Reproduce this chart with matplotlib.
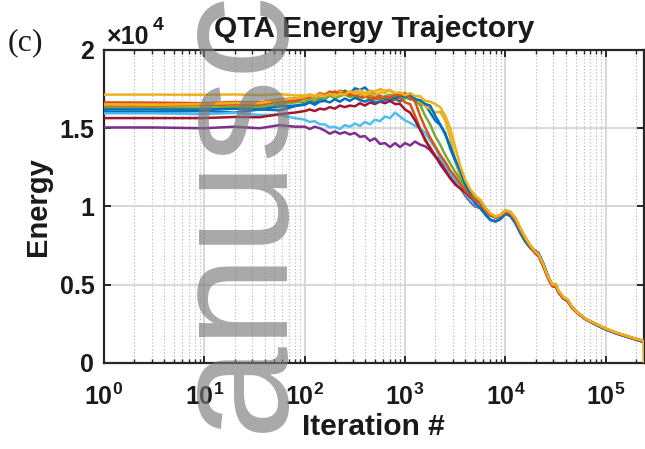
import numpy as np
import matplotlib
matplotlib.use("Agg")
import matplotlib.pyplot as plt
from matplotlib.ticker import LogLocator, FixedLocator, FuncFormatter, NullFormatter

plt.rcParams['font.family'] = ['Liberation Sans', 'DejaVu Sans']
plt.rcParams['mathtext.default'] = 'regular'

# ---- data (energy in units of 1e4, iterations on log10 scale) ----
log_iter_head = [0, 0.5, 1.0, 1.3, 1.55, 1.75, 1.9,
                 2.0, 2.05, 2.1, 2.15, 2.2, 2.25, 2.3, 2.35, 2.4, 2.45,
                 2.5, 2.55, 2.6, 2.65, 2.7, 2.75, 2.8, 2.85, 2.9, 2.95,
                 3.0, 3.05, 3.1, 3.15, 3.2, 3.25, 3.3, 3.35, 3.4, 3.45,
                 3.5, 3.55, 3.6, 3.65, 3.7]

run01 = [1.605, 1.605, 1.61, 1.60, 1.62, 1.615, 1.64,
         1.655, 1.675, 1.66, 1.69, 1.685, 1.71, 1.695, 1.72, 1.74, 1.72,
         1.755, 1.745, 1.76, 1.73, 1.715, 1.695, 1.70, 1.675, 1.69, 1.67,
         1.705, 1.685, 1.69, 1.65, 1.655, 1.60, 1.55, 1.52, 1.47, 1.37,
         1.29, 1.20, 1.13, 1.06, 1.02]
run02 = [1.665, 1.664, 1.66, 1.668, 1.665, 1.685, 1.69,
         1.70, 1.715, 1.705, 1.725, 1.715, 1.735, 1.72, 1.74, 1.73, 1.725,
         1.71, 1.725, 1.705, 1.715, 1.695, 1.71, 1.69, 1.70, 1.68, 1.695,
         1.665, 1.655, 1.58, 1.50, 1.42, 1.38, 1.32, 1.30, 1.25, 1.21,
         1.16, 1.13, 1.09, 1.065, 1.04]
run03 = [1.715, 1.715, 1.714, 1.716, 1.712, 1.718, 1.71,
         1.71, 1.715, 1.705, 1.72, 1.71, 1.725, 1.72, 1.735, 1.72, 1.735,
         1.73, 1.745, 1.725, 1.74, 1.735, 1.75, 1.74, 1.745, 1.715, 1.72,
         1.695, 1.715, 1.685, 1.67, 1.64, 1.625, 1.60, 1.605, 1.55, 1.44,
         1.30, 1.20, 1.13, 1.09, 1.06]
run04 = [1.505, 1.505, 1.50, 1.51, 1.50, 1.52, 1.51,
         1.51, 1.495, 1.51, 1.50, 1.485, 1.465, 1.48, 1.465, 1.475, 1.46,
         1.47, 1.445, 1.45, 1.42, 1.435, 1.40, 1.405, 1.38, 1.405, 1.38,
         1.405, 1.39, 1.415, 1.395, 1.385, 1.36, 1.32, 1.29, 1.245, 1.20,
         1.16, 1.12, 1.07, 1.03, 1.00]
run05 = [1.63, 1.632, 1.63, 1.638, 1.635, 1.655, 1.665,
         1.67, 1.685, 1.675, 1.695, 1.69, 1.71, 1.69, 1.705, 1.715, 1.70,
         1.71, 1.685, 1.70, 1.705, 1.685, 1.69, 1.705, 1.715, 1.70, 1.71,
         1.69, 1.695, 1.675, 1.65, 1.58, 1.525, 1.45, 1.395, 1.33, 1.275,
         1.22, 1.175, 1.12, 1.085, 1.06]
run06 = [1.595, 1.595, 1.59, 1.598, 1.585, 1.585, 1.565,
         1.555, 1.54, 1.545, 1.525, 1.525, 1.505, 1.51, 1.495, 1.52, 1.51,
         1.53, 1.515, 1.54, 1.525, 1.555, 1.545, 1.575, 1.565, 1.60, 1.575,
         1.55, 1.535, 1.515, 1.50, 1.47, 1.42, 1.375, 1.31, 1.265, 1.21,
         1.17, 1.13, 1.08, 1.04, 1.01]
run07 = [1.565, 1.565, 1.565, 1.572, 1.57, 1.59, 1.60,
         1.61, 1.62, 1.61, 1.625, 1.62, 1.635, 1.625, 1.645, 1.635, 1.645,
         1.64, 1.66, 1.645, 1.665, 1.655, 1.67, 1.66, 1.675, 1.655, 1.655,
         1.62, 1.60, 1.55, 1.49, 1.43, 1.37, 1.325, 1.27, 1.225, 1.18,
         1.14, 1.115, 1.09, 1.06, 1.04]
run08 = [1.62, 1.62, 1.618, 1.625, 1.62, 1.64, 1.645,
         1.65, 1.665, 1.65, 1.67, 1.675, 1.665, 1.685, 1.67, 1.69, 1.675,
         1.695, 1.68, 1.67, 1.685, 1.665, 1.67, 1.68, 1.695, 1.69, 1.71,
         1.70, 1.71, 1.685, 1.68, 1.655, 1.645, 1.58, 1.525, 1.46, 1.385,
         1.30, 1.225, 1.14, 1.08, 1.02]
run09 = [1.645, 1.645, 1.648, 1.652, 1.65, 1.67, 1.675,
         1.69, 1.70, 1.695, 1.715, 1.71, 1.725, 1.735, 1.72, 1.725, 1.71,
         1.715, 1.70, 1.705, 1.69, 1.69, 1.685, 1.70, 1.695, 1.715, 1.71,
         1.725, 1.695, 1.67, 1.58, 1.505, 1.44, 1.385, 1.33, 1.285, 1.23,
         1.19, 1.145, 1.10, 1.07, 1.04]
run10 = [1.652, 1.65, 1.655, 1.662, 1.66, 1.68, 1.69,
         1.70, 1.71, 1.70, 1.715, 1.705, 1.72, 1.705, 1.72, 1.715, 1.735,
         1.72, 1.725, 1.71, 1.725, 1.71, 1.73, 1.725, 1.745, 1.725, 1.73,
         1.71, 1.725, 1.705, 1.705, 1.675, 1.67, 1.655, 1.635, 1.58, 1.50,
         1.38, 1.26, 1.17, 1.11, 1.07]

log_iter_tail = [3.75, 3.8, 3.85, 3.9, 3.95, 4.0, 4.05, 4.1, 4.15, 4.2,
                 4.25, 4.3, 4.33, 4.38, 4.43, 4.47, 4.5, 4.53, 4.58, 4.62,
                 4.66, 4.72, 4.8, 4.9, 5.0, 5.1, 5.2, 5.3, 5.375]
tail_a = [0.99, 0.95, 0.915, 0.905, 0.92, 0.955, 0.94, 0.895, 0.83, 0.775,
          0.735, 0.715, 0.70, 0.63, 0.545, 0.495, 0.49, 0.455, 0.415, 0.395,
          0.36, 0.32, 0.28, 0.245, 0.215, 0.19, 0.17, 0.15, 0.135]
tail_b = [1.02, 0.975, 0.945, 0.93, 0.94, 0.965, 0.955, 0.91, 0.845, 0.79,
          0.74, 0.70, 0.685, 0.615, 0.535, 0.49, 0.495, 0.45, 0.41, 0.40,
          0.355, 0.318, 0.28, 0.248, 0.218, 0.192, 0.172, 0.152, 0.14]
tail_c = [1.04, 0.99, 0.955, 0.935, 0.945, 0.975, 0.965, 0.925, 0.86, 0.80,
          0.75, 0.71, 0.695, 0.625, 0.545, 0.50, 0.505, 0.46, 0.42, 0.405,
          0.362, 0.322, 0.283, 0.25, 0.22, 0.195, 0.175, 0.155, 0.142]

# last recorded sample of the final run
final_log_iter = 5.379
final_energy = 0.01

matlab_colors = ['#0072BD', '#D95319', '#EDB120', '#7E2F8E',
                 '#77AC30', '#4DBEEE', '#A2142F']

runs = [(run01, tail_a), (run02, tail_b), (run03, tail_c), (run04, tail_a),
        (run05, tail_c), (run06, tail_a), (run07, tail_b), (run08, tail_a),
        (run09, tail_b), (run10, tail_c)]

x_ticks = [1, 10, 100, 1000, 10000, 100000]
y_ticks = [0, 0.5, 1, 1.5, 2]

# ---- figure ----
fig = plt.figure(figsize=(6.45, 4.49), dpi=100)
ax = fig.add_axes([104 / 645, (449 - 363) / 449, (643.5 - 104) / 645, (363 - 50) / 449])

for i, (head, tail) in enumerate(runs):
    lx = list(log_iter_head) + list(log_iter_tail)
    ly = list(head) + list(tail)
    if i == len(runs) - 1:
        lx.append(final_log_iter)
        ly.append(final_energy)
    ax.plot(10 ** np.array(lx), ly, color=matlab_colors[i % 7], lw=1.8,
            zorder=3, solid_joinstyle='round')

ax.set_xscale('log')
ax.set_xlim(1, 10 ** 5.376)
ax.set_ylim(0, 2)

ax.xaxis.set_major_locator(FixedLocator(x_ticks))
ax.xaxis.set_minor_locator(LogLocator(base=10, subs=np.arange(2, 10), numticks=20))
ax.xaxis.set_minor_formatter(NullFormatter())
ax.yaxis.set_major_locator(FixedLocator(y_ticks))
ax.yaxis.set_major_formatter(FuncFormatter(lambda v, p: '%g' % v))

ax.grid(True, which='major', color='#d2d2d2', lw=1.2, ls='-', zorder=0)
ax.grid(True, which='minor', axis='x', color='#b4b4b4', lw=0.8, ls=(0, (1, 2)), zorder=0)
ax.set_axisbelow(True)

for sp in ax.spines.values():
    sp.set_linewidth(1.6)
    sp.set_color('#262626')

ax.tick_params(which='both', direction='in', top=True, right=True, colors='#262626')
ax.tick_params(which='major', length=5, width=1.4)
ax.tick_params(which='minor', length=3, width=1.0)
ax.tick_params(axis='x', which='major', pad=15, labelsize=18, labelcolor='#1a1a1a')
ax.tick_params(axis='y', which='major', pad=7, labelsize=18, labelcolor='#1a1a1a')
for lab in ax.get_xticklabels() + ax.get_yticklabels():
    lab.set_fontweight('bold')

ax.set_xlabel('Iteration #', fontsize=21.5, fontweight='bold', color='#1a1a1a', labelpad=2)
ax.set_ylabel('Energy', fontsize=21, fontweight='bold', color='#1a1a1a', labelpad=5)
ax.set_title('QTA Energy Trajectory', fontsize=21.5, fontweight='bold', color='#1a1a1a', pad=9)

fig.text(107 / 645, 1 - 44 / 449, '×10', fontsize=18, fontweight='bold',
         color='#1a1a1a', ha='left', va='baseline')
fig.text(152.5 / 645, 1 - 30 / 449, '4', fontsize=14, fontweight='bold',
         color='#1a1a1a', ha='left', va='baseline')
fig.text(8 / 645, 1 - 50 / 449, '(c)', fontsize=23, family='Liberation Serif',
         color='#1a1a1a', ha='left', va='baseline')

# watermark text
fig.text(281 / 645, 1 - 432 / 449, 'anusc', rotation=90, rotation_mode='anchor',
         ha='left', va='baseline', fontsize=120, family='Liberation Sans',
         color='#7a7a7a', alpha=0.65, zorder=10)

fig.savefig('out.png', dpi=100)
